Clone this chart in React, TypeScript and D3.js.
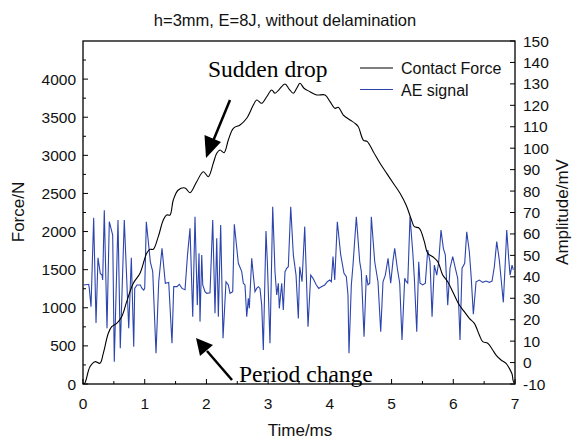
import React from "react";
import * as d3 from "d3";

const W = 577, H = 440;
const M = { left: 83, right: 515, top: 41, bottom: 384 };

const title = "h=3mm, E=8J, without delamination";
const xTicks = [0, 1, 2, 3, 4, 5, 6, 7];
const xMinor = [0.5, 1.5, 2.5, 3.5, 4.5, 5.5, 6.5];
const leftTicks = [0, 500, 1000, 1500, 2000, 2500, 3000, 3500, 4000];
const leftMinor = [250, 750, 1250, 1750, 2250, 2750, 3250, 3750, 4250];
const rightTicks = [-10, 0, 10, 20, 30, 40, 50, 60, 70, 80, 90, 100, 110, 120, 130, 140, 150];

// Contact force (ms, N)
const forceT = [0.0, 0.03, 0.049, 0.113, 0.194, 0.275, 0.329, 0.41, 0.465, 0.546, 0.627, 0.708, 0.815, 0.924, 1.032, 1.086, 1.139, 1.22, 1.301, 1.356, 1.41, 1.463, 1.544, 1.653, 1.734, 1.842, 1.949, 2.03, 2.111, 2.167, 2.22, 2.285, 2.355, 2.436, 2.544, 2.653, 2.76, 2.815, 2.896, 2.977, 3.058, 3.111, 3.181, 3.273, 3.343, 3.408, 3.463, 3.516, 3.581, 3.678, 3.787, 3.922, 4.003, 4.084, 4.137, 4.218, 4.327, 4.408, 4.461, 4.542, 4.607, 4.704, 4.813, 4.921, 5.028, 5.137, 5.239, 5.32, 5.369, 5.45, 5.531, 5.586, 5.667, 5.748, 5.829, 5.91, 5.991, 6.098, 6.179, 6.26, 6.341, 6.422, 6.477, 6.558, 6.639, 6.693, 6.774, 6.855, 6.908, 6.952, 6.968, 6.985];
const forceN = [0, 13, 52, 227, 293, 272, 403, 665, 752, 796, 883, 1080, 1321, 1452, 1715, 1767, 1767, 1933, 2152, 2217, 2217, 2414, 2545, 2572, 2510, 2654, 2785, 2720, 2896, 3027, 3070, 3035, 3201, 3355, 3398, 3486, 3660, 3726, 3683, 3769, 3857, 3814, 3866, 3936, 3866, 3814, 3880, 3945, 3880, 3835, 3792, 3792, 3704, 3617, 3630, 3529, 3464, 3420, 3376, 3201, 3179, 3048, 2896, 2764, 2633, 2502, 2342, 2158, 2064, 2043, 1867, 1715, 1670, 1605, 1430, 1342, 1211, 1036, 949, 862, 796, 643, 555, 534, 446, 380, 315, 272, 206, 131, 52, 13];

// AE signal (ms, mV)
const aeT = [0.011, 0.092, 0.102, 0.13, 0.173, 0.211, 0.243, 0.28, 0.308, 0.319, 0.345, 0.389, 0.426, 0.481, 0.507, 0.567, 0.604, 0.669, 0.741, 0.783, 0.822, 0.838, 0.875, 0.929, 0.956, 0.984, 1.0, 1.026, 1.091, 1.13, 1.183, 1.227, 1.28, 1.334, 1.389, 1.442, 1.47, 1.523, 1.561, 1.604, 1.653, 1.693, 1.734, 1.778, 1.815, 1.852, 1.88, 1.896, 1.924, 1.94, 1.977, 2.004, 2.058, 2.102, 2.139, 2.167, 2.193, 2.231, 2.269, 2.317, 2.355, 2.382, 2.426, 2.452, 2.517, 2.572, 2.598, 2.625, 2.653, 2.679, 2.695, 2.734, 2.76, 2.787, 2.815, 2.841, 2.868, 2.896, 2.922, 2.965, 2.987, 3.03, 3.074, 3.111, 3.139, 3.165, 3.181, 3.22, 3.246, 3.273, 3.301, 3.327, 3.366, 3.408, 3.452, 3.489, 3.512, 3.549, 3.593, 3.646, 3.69, 3.727, 3.781, 3.82, 3.862, 3.917, 3.959, 3.998, 4.024, 4.051, 4.079, 4.121, 4.176, 4.229, 4.267, 4.294, 4.31, 4.348, 4.375, 4.429, 4.484, 4.51, 4.554, 4.591, 4.618, 4.646, 4.672, 4.727, 4.78, 4.824, 4.861, 4.899, 4.943, 4.986, 5.024, 5.051, 5.093, 5.132, 5.169, 5.213, 5.239, 5.262, 5.299, 5.343, 5.369, 5.408, 5.44, 5.461, 5.505, 5.547, 5.586, 5.623, 5.656, 5.693, 5.732, 5.764, 5.801, 5.839, 5.871, 5.91, 5.947, 5.991, 6.033, 6.072, 6.109, 6.142, 6.185, 6.218, 6.26, 6.288, 6.325, 6.369, 6.422, 6.477, 6.531, 6.584, 6.628, 6.665, 6.704, 6.746, 6.774, 6.811, 6.843, 6.866, 6.898, 6.92, 6.952, 6.973];
const aeV = [36.2, 36.5, 34.6, 26.1, 67.6, 18.5, 48.9, 41.6, 40.8, 38.5, 71.0, 16.0, 65.7, 59.5, 0.4, 66.5, 6.7, 66.5, 16.0, 48.9, 7.4, 34.6, 36.2, 36.2, 34.6, 33.8, 34.6, 65.7, 47.0, 42.4, 4.3, 37.7, 53.3, 37.0, 37.4, 9.0, 35.4, 35.4, 36.5, 34.6, 34.0, 50.0, 62.6, 21.4, 68.0, 26.8, 51.0, 19.1, 50.2, 36.2, 33.1, 32.3, 32.6, 66.5, 23.0, 58.0, 21.4, 64.2, 11.3, 37.7, 36.2, 32.3, 33.1, 64.5, 46.3, 42.4, 37.0, 36.2, 21.4, 30.0, 25.3, 48.6, 40.8, 33.1, 34.6, 35.4, 34.6, 26.8, 5.9, 61.4, 47.0, 9.0, 72.7, 42.4, 31.5, 37.0, 25.3, 37.0, 24.5, 42.4, 44.0, 44.7, 72.7, 50.2, 40.8, 20.6, 44.7, 37.7, 63.4, 16.7, 40.8, 39.3, 36.2, 34.6, 35.4, 36.2, 37.7, 38.5, 37.7, 49.4, 38.5, 65.7, 50.2, 41.6, 40.0, 31.5, 4.3, 36.2, 45.5, 68.0, 47.0, 42.4, 12.1, 40.8, 36.2, 37.0, 68.0, 47.0, 37.7, 14.4, 37.7, 40.8, 48.6, 37.0, 47.8, 53.3, 44.0, 37.0, 10.5, 39.3, 37.7, 37.0, 68.0, 51.7, 39.3, 14.4, 47.0, 37.0, 36.2, 37.0, 52.5, 47.0, 21.4, 45.5, 40.8, 47.0, 61.8, 53.3, 50.2, 26.8, 44.0, 49.4, 44.0, 39.3, 10.5, 44.0, 46.3, 61.0, 51.7, 40.8, 22.5, 37.7, 38.5, 37.4, 38.0, 37.4, 38.0, 44.7, 56.4, 47.8, 39.3, 28.1, 47.0, 61.8, 48.6, 40.8, 45.5, 43.2];

const legendLabels = ["Contact Force", "AE signal"];
const colors = { force: "#000000", ae: "#2c44ad" };

export default function App() {
  const x = d3.scaleLinear().domain([0, 7]).range([M.left, M.right]);
  const yL = d3.scaleLinear().domain([0, 4500]).range([M.bottom, M.top]);
  const yR = d3.scaleLinear().domain([-10, 150]).range([M.bottom, M.top]);

  const forceData = forceT.map((t, i) => [t, forceN[i]] as [number, number]);
  const aeData = aeT.map((t, i) => [t, aeV[i]] as [number, number]);

  const forceLine = d3.line<[number, number]>().x(d => x(d[0])).y(d => yL(d[1])).curve(d3.curveCatmullRom.alpha(0.5));
  const aeLine = d3.line<[number, number]>().x(d => x(d[0])).y(d => yR(d[1]));

  const sans = "Arial, 'Liberation Sans', sans-serif";
  const serif = "'Times New Roman', 'Liberation Serif', serif";
  const tickFs = 15.5;

  return (
    <svg width={W} height={H} style={{ position: "absolute", left: 0, top: 0, background: "#fff" }} fontFamily={sans}>
      <rect width={W} height={H} fill="#fff" />
      <text x={285} y={26} fontSize={16.5} textAnchor="middle" fill="#111">{title}</text>

      <defs>
        <clipPath id="plot">
          <rect x={M.left} y={M.top} width={M.right - M.left} height={M.bottom - M.top} />
        </clipPath>
      </defs>

      <g clipPath="url(#plot)">
        <path d={aeLine(aeData) || ""} fill="none" stroke={colors.ae} strokeWidth={1.1} />
        <path d={forceLine(forceData) || ""} fill="none" stroke={colors.force} strokeWidth={1.1} />
      </g>

      {/* frame */}
      <rect x={M.left} y={M.top} width={M.right - M.left} height={M.bottom - M.top} fill="none" stroke="#000" strokeWidth={1.3} />

      {/* bottom axis */}
      {xTicks.map(t => (
        <g key={"x" + t}>
          <line x1={x(t)} x2={x(t)} y1={M.bottom} y2={M.bottom - 5} stroke="#000" />
          <text x={x(t)} y={409} fontSize={tickFs} textAnchor="middle" fill="#111">{t}</text>
        </g>
      ))}
      {xMinor.map(t => (
        <line key={"xm" + t} x1={x(t)} x2={x(t)} y1={M.bottom} y2={M.bottom - 3} stroke="#000" />
      ))}
      <text x={300} y={436} fontSize={17} textAnchor="middle" fill="#111">Time/ms</text>

      {/* left axis */}
      {leftTicks.map(v => (
        <g key={"l" + v}>
          <line x1={M.left} x2={M.left + 5} y1={yL(v)} y2={yL(v)} stroke="#000" />
          <text x={M.left - 7} y={yL(v) + 5.5} fontSize={tickFs} textAnchor="end" fill="#111">{v}</text>
        </g>
      ))}
      {leftMinor.map(v => (
        <line key={"lm" + v} x1={M.left} x2={M.left + 3} y1={yL(v)} y2={yL(v)} stroke="#000" />
      ))}
      <text transform={`translate(24,212) rotate(-90)`} fontSize={17} textAnchor="middle" fill="#111">Force/N</text>

      {/* right axis */}
      {rightTicks.map(v => (
        <g key={"r" + v}>
          <line x1={M.right} x2={M.right - 5} y1={yR(v)} y2={yR(v)} stroke="#000" />
          <text x={M.right + 8} y={yR(v) + 5.5} fontSize={tickFs} textAnchor="start" fill="#111">{v}</text>
        </g>
      ))}
      <text transform={`translate(568,212) rotate(-90)`} fontSize={17} textAnchor="middle" fill="#111">Amplitude/mV</text>

      {/* legend */}
      <line x1={360} x2={393} y1={68} y2={68} stroke={colors.force} strokeWidth={1.1} />
      <text x={401} y={74} fontSize={16} fill="#111">{legendLabels[0]}</text>
      <line x1={360} x2={393} y1={89.5} y2={89.5} stroke={colors.ae} strokeWidth={1.1} />
      <text x={401} y={95.5} fontSize={16} fill="#111">{legendLabels[1]}</text>

      {/* annotations */}
      <text x={208} y={77} fontSize={23.5} fontFamily={serif} fill="#000">Sudden drop</text>
      <line x1={230} y1={100} x2={213.5} y2={140} stroke="#000" strokeWidth={2.5} />
      <polygon points="206,158 204.5,135 221,142" fill="#000" />

      <text x={239} y={382} fontSize={23.5} fontFamily={serif} fill="#000">Period change</text>
      <line x1={232} y1={380} x2={207} y2={351} stroke="#000" strokeWidth={2.5} />
      <polygon points="196,338 200,356 213,345" fill="#000" />
    </svg>
  );
}
